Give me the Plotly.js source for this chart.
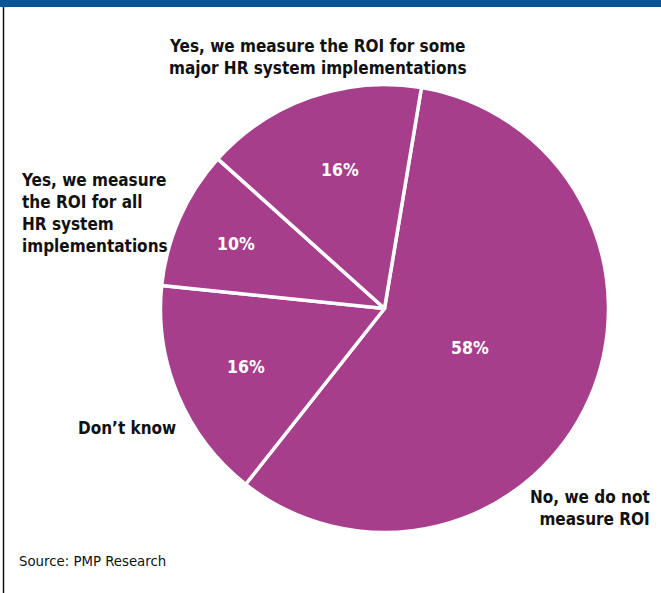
<!DOCTYPE html>
<html>
<head>
<meta charset="utf-8">
<script src="https://cdn.plot.ly/plotly-3.0.1.min.js"></script>
<style>
  html, body { margin: 0; padding: 0; background: #ffffff; }
  #chart { width: 661px; height: 593px; }
</style>
</head>
<body>
<div id="chart"></div>
<script>
// Data
const categories = [
  "No, we do not<br>measure ROI",
  "Don’t know",
  "Yes, we measure<br>the ROI for all<br>HR system<br>implementations",
  "Yes, we measure the ROI for some<br>major HR system implementations"
];
const values = [58, 16, 10, 16];
const sourceNote = "Source: PMP Research";

const W = 661, H = 593;
const px = x => x / W;
const py = y => 1 - y / H;

const FONT = "'Liberation Sans Narrow', 'Arial Narrow', 'DejaVu Sans Condensed', sans-serif";
const PURPLE = "#A63E8C";

// Pie geometry (pixels)
const cx = 384.5, cy = 308.5, R = 224;

const trace = {
  type: "pie",
  labels: categories,
  values: values,
  sort: false,
  direction: "clockwise",
  rotation: 9.5,
  textinfo: "none",
  hoverinfo: "label+percent",
  marker: { colors: values.map(() => PURPLE), line: { color: "#ffffff", width: 3.5 } },
  domain: { x: [px(cx - R), px(cx + R)], y: [1 - (cy + R) / H, 1 - (cy - R) / H] },
  showlegend: false
};

// label positions (pixels) and anchors for outside labels
const labelPos = [
  { x: 652, y: 508, xanchor: "right", align: "right" },
  { x: 178, y: 428, xanchor: "right", align: "right" },
  { x: 19, y: 213, xanchor: "left", align: "left" },
  { x: 318, y: 57, xanchor: "center", align: "center" }
];
const pctPos = [
  { x: 470, y: 348 },
  { x: 246, y: 367 },
  { x: 236, y: 244 },
  { x: 340, y: 170 }
];

const annotations = [];
categories.forEach((c, i) => {
  annotations.push({
    xref: "paper", yref: "paper",
    x: px(labelPos[i].x), y: py(labelPos[i].y),
    xanchor: labelPos[i].xanchor, yanchor: "middle",
    align: labelPos[i].align,
    text: "<b>" + c + "</b>",
    showarrow: false,
    font: { family: FONT, size: 17, color: "#111111" }
  });
  annotations.push({
    xref: "paper", yref: "paper",
    x: px(pctPos[i].x), y: py(pctPos[i].y),
    xanchor: "center", yanchor: "middle",
    text: "<b>" + values[i] + "%</b>",
    showarrow: false,
    font: { family: FONT, size: 17.5, color: "#ffffff" }
  });
});
annotations.push({
  xref: "paper", yref: "paper",
  x: px(17), y: py(560),
  xanchor: "left", yanchor: "middle",
  text: sourceNote,
  showarrow: false,
  font: { family: FONT, size: 14.8, color: "#111111" }
});

const layout = {
  width: W, height: H,
  margin: { l: 0, r: 0, t: 0, b: 0 },
  paper_bgcolor: "#ffffff",
  plot_bgcolor: "#ffffff",
  showlegend: false,
  annotations: annotations,
  shapes: [
    { type: "rect", xref: "paper", yref: "paper", x0: 0, x1: 1, y0: py(7), y1: 1,
      fillcolor: "#0B5597", line: { width: 0 }, layer: "below" },
    { type: "line", xref: "paper", yref: "paper", x0: px(3.5), x1: px(3.5), y0: 0, y1: py(7),
      line: { color: "#111111", width: 1.5 } }
  ]
};

Plotly.newPlot("chart", [trace], layout, { displayModeBar: false, staticPlot: true });
</script>
</body>
</html>
